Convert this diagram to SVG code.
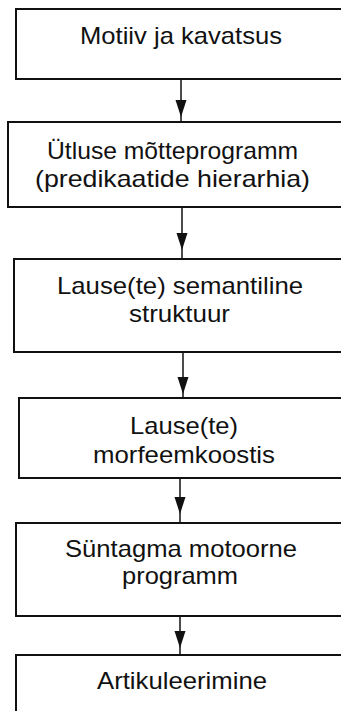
<svg xmlns="http://www.w3.org/2000/svg" width="341" height="711" viewBox="0 0 341 711">
  <defs>
    <style>
      .box { fill: #ffffff; stroke: #111111; stroke-width: 2; }
      .lbl { font-family: "Liberation Sans", Arial, sans-serif; font-size: 24px; fill: #111111; text-anchor: middle; }
      .link { stroke: #111111; stroke-width: 1.5; fill: none; }
      .head { fill: #111111; }
    </style>
    <path id="tip" class="head" d="M -5.5 0 L 5.5 0 L 0 17 Z"/>
  </defs>
  <rect width="341" height="711" fill="#ffffff"/>

  <!-- connectors between stages -->
  <g id="connectors">
    <line class="link" x1="181" y1="79" x2="181" y2="122"/>
    <use href="#tip" x="181" y="100"/>
    <line class="link" x1="182" y1="207" x2="182" y2="259"/>
    <use href="#tip" x="182" y="233"/>
    <line class="link" x1="183" y1="352" x2="183" y2="398"/>
    <use href="#tip" x="183" y="377"/>
    <line class="link" x1="180" y1="478" x2="180" y2="523"/>
    <use href="#tip" x="180" y="497"/>
    <line class="link" x1="180" y1="616" x2="180" y2="655"/>
    <use href="#tip" x="180" y="631"/>
  </g>

  <g id="motiiv">
    <rect class="box" x="16" y="9" width="340" height="70"/>
    <text class="lbl" x="181" y="44" textLength="202" lengthAdjust="spacingAndGlyphs">Motiiv ja kavatsus</text>
  </g>

  <g id="motteprogramm">
    <rect class="box" x="8" y="122" width="350" height="85"/>
    <text class="lbl" x="172.5" y="159" textLength="251" lengthAdjust="spacingAndGlyphs">Ütluse mõtteprogramm</text>
    <text class="lbl" x="172.5" y="187" textLength="275" lengthAdjust="spacingAndGlyphs">(predikaatide hierarhia)</text>
  </g>

  <g id="semantika">
    <rect class="box" x="14" y="259" width="345" height="93"/>
    <text class="lbl" x="180" y="294" textLength="246" lengthAdjust="spacingAndGlyphs">Lause(te) semantiline</text>
    <text class="lbl" x="179.5" y="322" textLength="101" lengthAdjust="spacingAndGlyphs">struktuur</text>
  </g>

  <g id="morfeemkoostis">
    <rect class="box" x="19" y="398" width="340" height="80"/>
    <text class="lbl" x="184" y="434" textLength="108" lengthAdjust="spacingAndGlyphs">Lause(te)</text>
    <text class="lbl" x="184" y="463" textLength="182" lengthAdjust="spacingAndGlyphs">morfeemkoostis</text>
  </g>

  <g id="motoorne">
    <rect class="box" x="16" y="523" width="345" height="93"/>
    <text class="lbl" x="181" y="557" textLength="232" lengthAdjust="spacingAndGlyphs">Süntagma motoorne</text>
    <text class="lbl" x="180" y="584" textLength="116" lengthAdjust="spacingAndGlyphs">programm</text>
  </g>

  <g id="artikuleerimine">
    <rect class="box" x="16" y="655" width="345" height="80"/>
    <text class="lbl" x="182" y="689" textLength="170" lengthAdjust="spacingAndGlyphs">Artikuleerimine</text>
  </g>
</svg>
